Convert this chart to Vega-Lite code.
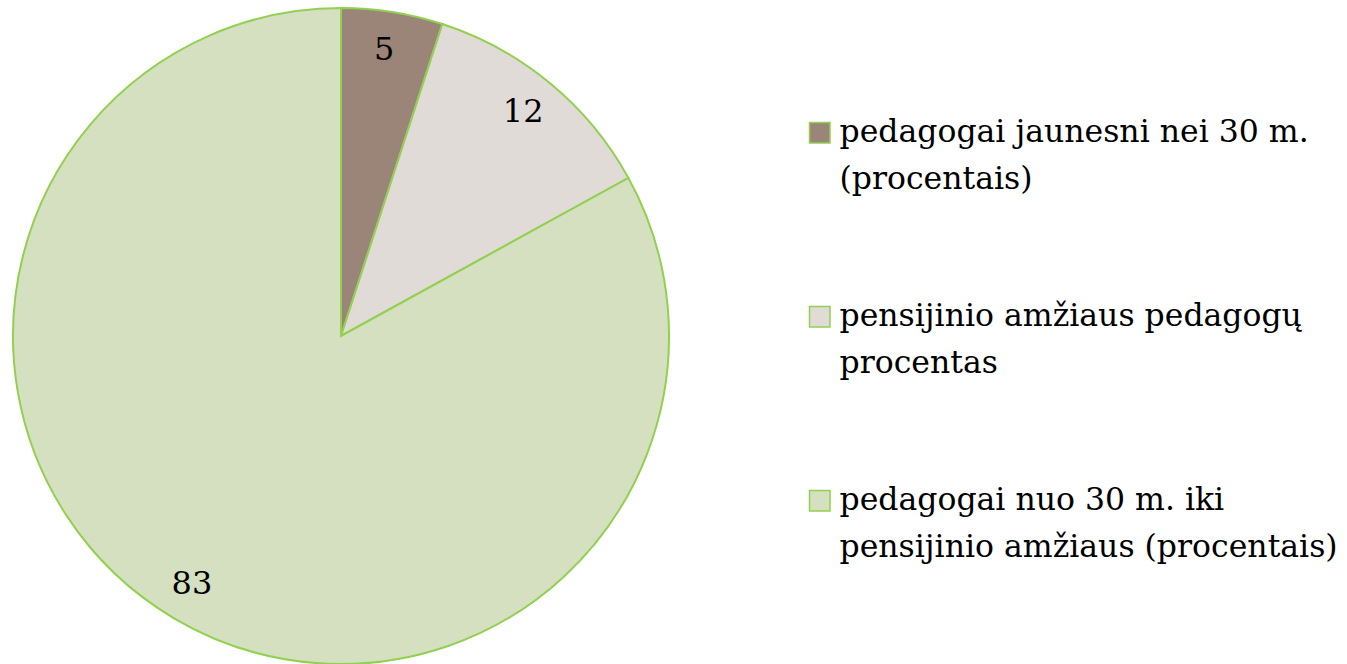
{
  "$schema": "https://vega.github.io/schema/vega-lite/v6.json",
  "width": 682,
  "height": 664,
  "padding": 0,
  "autosize": {"type": "pad"},
  "background": "white",
  "config": {"view": {"stroke": null}, "style": {"guide-label": {"lineHeight": 47}}},
  "data": {
    "values": [
      {"category": "pedagogai jaunesni nei 30 m.|(procentais)", "value": 5},
      {"category": "pensijinio amžiaus pedagogų|procentas", "value": 12},
      {"category": "pedagogai nuo 30 m. iki|pensijinio amžiaus (procentais)", "value": 83}
    ]
  },
  "encoding": {
    "theta": {"field": "value", "type": "quantitative", "stack": true},
    "color": {
      "field": "category",
      "type": "nominal",
      "sort": null,
      "scale": {"range": ["#9B8579", "#E0DBD7", "#D5E0C1"]},
      "legend": {
        "title": null,
        "orient": "none",
        "legendX": 804,
        "legendY": 117,
        "symbolType": "square",
        "symbolSize": 420,
        "symbolStrokeColor": "#92D050",
        "symbolStrokeWidth": 1.5,
        "symbolOpacity": 1,
        "labelExpr": "split(datum.label, '|')",
        "labelFont": "DejaVu Serif",
        "labelFontSize": 31.5,
        "labelColor": "#000000",
        "labelLimit": 0,
        "labelOffset": 4,
        "rowPadding": 104,
        "encode": {"labels": {"update": {"lineHeight": {"value": 47}}}}
      }
    },
    "order": {"field": "value", "type": "quantitative", "sort": "ascending"}
  },
  "layer": [
    {
      "mark": {"type": "arc", "outerRadius": 328, "yOffset": 4, "stroke": "#92D050", "strokeWidth": 2}
    },
    {
      "mark": {"type": "text", "radius": 289, "yOffset": 3, "xOffset": -2, "font": "DejaVu Serif", "fontSize": 32, "color": "#000000"},
      "encoding": {
        "text": {"field": "value", "type": "quantitative"},
        "color": {"value": "#000000"}
      }
    }
  ]
}
